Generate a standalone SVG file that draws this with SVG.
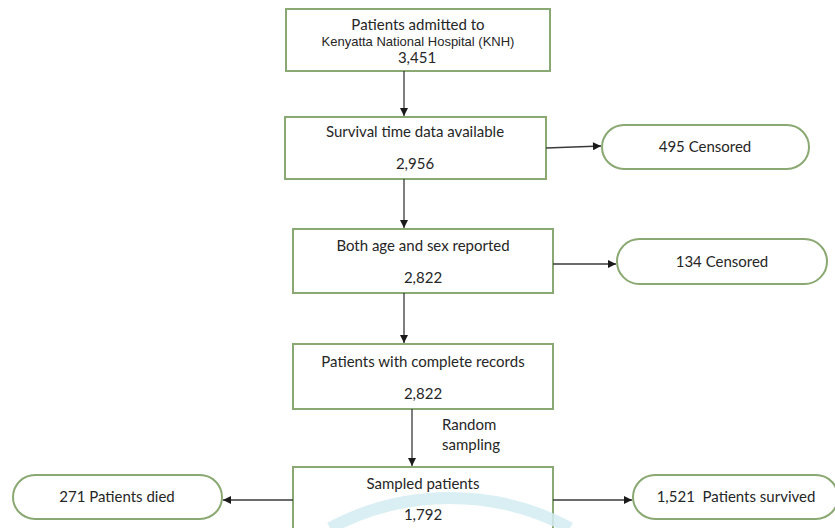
<svg xmlns="http://www.w3.org/2000/svg" width="835" height="528" viewBox="0 0 835 528">
<defs>
<marker id="ah" viewBox="0 0 10 10" refX="10" refY="5" markerWidth="9" markerHeight="8" markerUnits="userSpaceOnUse" orient="auto">
<path d="M0,0 L10,5 L0,10 z" fill="#1a1a1a"/>
</marker>
<style>
.box{fill:#ffffff;stroke:#8aa872;stroke-width:2}
.pill{fill:#ffffff;stroke:#8aa872;stroke-width:2}
.t{font-family:Lato,"Liberation Sans",sans-serif;font-size:15px;fill:#262626;text-anchor:middle}
.a{font-family:"Liberation Sans",Arial,sans-serif;font-size:13px;fill:#262626;text-anchor:middle}
.c{stroke:#3a3a3a;stroke-width:1.3;fill:none;marker-end:url(#ah)}
</style>
</defs>
<rect width="835" height="528" fill="#ffffff"/>
<g id="n1">
<rect class="box" x="286" y="9" width="264" height="62"/>
<text class="t" x="418" y="30">Patients admitted to</text>
<text class="a" x="418" y="46">Kenyatta National Hospital (KNH)</text>
<text class="t" x="417" y="63">3,451</text>
</g>
<g id="n2">
<rect class="box" x="285" y="117" width="261" height="62"/>
<text class="t" x="415" y="137">Survival time data available</text>
<text class="t" x="415" y="169">2,956</text>
</g>
<g id="n3">
<rect class="pill" x="602" y="125" width="207" height="44" rx="22"/>
<text class="t" x="705" y="152">495 Censored</text>
</g>
<g id="n4">
<rect class="box" x="293" y="229" width="260" height="64"/>
<text class="t" x="423" y="251">Both age and sex reported</text>
<text class="t" x="423" y="283">2,822</text>
</g>
<g id="n5">
<rect class="pill" x="617" y="239" width="210" height="45" rx="22.5"/>
<text class="t" x="722" y="267">134 Censored</text>
</g>
<g id="n6">
<rect class="box" x="293" y="344" width="260" height="65"/>
<text class="t" x="423" y="367">Patients with complete records</text>
<text class="t" x="423" y="399">2,822</text>
</g>
<g id="n7">
<rect class="box" x="293" y="467" width="260" height="80"/>
<path d="M330,528 A255,255 0 0 1 570,528" fill="none" stroke="#d3ecf2" stroke-width="12" opacity="0.85"/>
<text class="t" x="423" y="489">Sampled patients</text>
<text class="t" x="423" y="520">1,792</text>
</g>
<g id="n8">
<rect class="pill" x="13" y="475" width="209" height="44" rx="22"/>
<text class="t" x="117" y="502">271 Patients died</text>
</g>
<g id="n9">
<rect class="pill" x="633" y="475" width="205" height="44" rx="22"/>
<text class="t" x="736" y="502" xml:space="preserve">1,521  Patients survived</text>
</g>
<g id="connectors">
<line class="c" x1="404" y1="71" x2="404" y2="116"/>
<line class="c" x1="546" y1="148" x2="601" y2="146"/>
<line class="c" x1="404" y1="179" x2="404" y2="228"/>
<line class="c" x1="553" y1="264" x2="616" y2="264"/>
<line class="c" x1="404" y1="293" x2="404" y2="343"/>
<line class="c" x1="412" y1="409" x2="412" y2="466"/>
<line class="c" x1="293" y1="500" x2="223" y2="500"/>
<line class="c" x1="553" y1="500" x2="632" y2="500"/>
<text class="t" x="442" y="430" style="text-anchor:start">Random</text>
<text class="t" x="442" y="450" style="text-anchor:start">sampling</text>
</g>
</svg>
